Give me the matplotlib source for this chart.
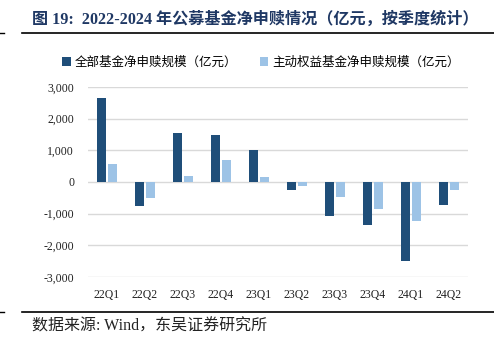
import matplotlib
matplotlib.use("Agg")
import matplotlib.pyplot as plt
import numpy as np

plt.rcParams['font.family'] = ['Liberation Serif', 'Noto Sans CJK SC', 'DejaVu Sans']

# data (亿元)
quarters = ["22Q1", "22Q2", "22Q3", "22Q4", "23Q1", "23Q2", "23Q3", "23Q4", "24Q1", "24Q2"]
all_funds = [2640, -770, 1545, 1475, 1000, -265, -1075, -1355, -2495, -715]
active_equity = [560, -505, 180, 685, 160, -135, -485, -865, -1220, -255]
yticks = [-3000, -2000, -1000, 0, 1000, 2000, 3000]

dark = "#1F4E79"
light = "#9DC3E6"

fig = plt.figure(figsize=(4.94, 3.47), dpi=100)
ax = fig.add_axes([88 / 494, 1 - 277 / 347, (468 - 88) / 494, (277 - 87) / 347])

x = np.arange(len(quarters))
w = 0.23
ax.bar(x - 0.14, all_funds, w, color=dark, label="全部基金净申赎规模（亿元）", zorder=3)
ax.bar(x + 0.14, active_equity, w, color=light, label="主动权益基金净申赎规模（亿元）", zorder=3)

ax.set_xlim(-0.5, len(quarters) - 0.5)
ax.set_ylim(-3000, 3000)
ax.set_yticks(yticks)
ax.set_yticklabels([f"{v:,}" for v in yticks])
ax.set_xticks(x)
ax.set_xticklabels(quarters)
ax.tick_params(length=0, labelsize=8.5, colors="#222222")
ax.tick_params(axis="y", pad=10)
ax.tick_params(axis="x", pad=9)
ax.grid(axis="y", color="#D9D9D9", linewidth=1, zorder=0)
for s in ax.spines.values():
    s.set_visible(False)

ax.legend(loc="lower center", bbox_to_anchor=(0.455, 1.07), ncol=2, frameon=False,
          fontsize=9, handlelength=0.7, handleheight=0.7, handletextpad=0.3,
          columnspacing=1.8, borderaxespad=0)

# header / footer
fig.text(32 / 494, 1 - 20 / 347, "图 19:  2022-2024 年公募基金净申赎情况（亿元，按季度统计）",
         fontsize=11.6, fontweight="bold", color="#1F3864", va="center", ha="left")
fig.add_artist(plt.Line2D([22 / 494, 1], [1 - 33 / 347] * 2, color="black", linewidth=1.2))
fig.add_artist(plt.Line2D([0, 4 / 494], [1 - 33 / 347] * 2, color="black", linewidth=1))
fig.add_artist(plt.Line2D([22 / 494, 1], [1 - 312 / 347] * 2, color="black", linewidth=1.2))
fig.add_artist(plt.Line2D([0, 4 / 494], [1 - 312 / 347] * 2, color="black", linewidth=1))
fig.text(32 / 494, 1 - 327 / 347, "数据来源: Wind，东吴证券研究所", fontsize=11.5,
         va="center", ha="left", color="#222222")

fig.savefig("out.png", dpi=100)
